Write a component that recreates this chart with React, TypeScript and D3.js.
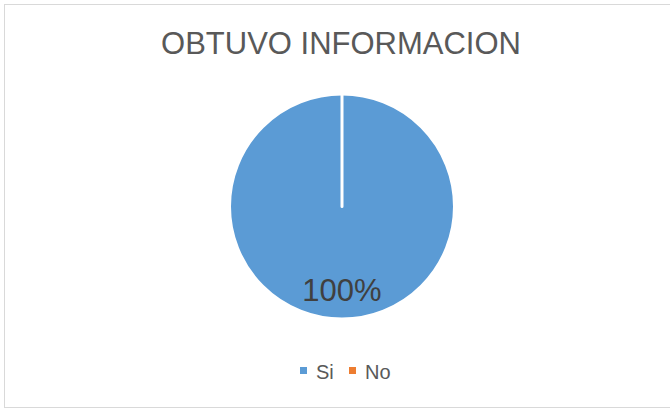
import { useEffect, useRef } from "react";
import * as d3 from "d3";

const categories = ["Si", "No"];
const values = [100, 0];
const colors = ["#5B9BD5", "#ED7D31"];
const title = "OBTUVO INFORMACION";

const W = 670;
const H = 409;

export default function App() {
  const ref = useRef<SVGSVGElement>(null);

  useEffect(() => {
    const svg = d3.select(ref.current);
    svg.selectAll("*").remove();

    // chart frame
    svg
      .append("rect")
      .attr("x", 4.5)
      .attr("y", 4.5)
      .attr("width", 670)
      .attr("height", 403)
      .attr("fill", "#fff")
      .attr("stroke", "#d9d9d9")
      .attr("stroke-width", 1);

    svg
      .append("text")
      .attr("x", 341)
      .attr("y", 54)
      .attr("text-anchor", "middle")
      .style("font-family", "'Liberation Sans', Arial, sans-serif")
      .style("font-size", "31px")
      .attr("fill", "#595959")
      .text(title);

    const data = categories.map((c, i) => ({ name: c, value: values[i] }));
    const pie = d3
      .pie<{ name: string; value: number }>()
      .value((d) => d.value)
      .sort(null);
    const arc = d3
      .arc<d3.PieArcDatum<{ name: string; value: number }>>()
      .innerRadius(0)
      .outerRadius(112.5);

    const g = svg.append("g").attr("transform", "translate(342,206.5)");
    const arcs = pie(data);

    g.selectAll("path")
      .data(arcs)
      .enter()
      .append("path")
      .attr("d", arc)
      .attr("fill", (_, i) => colors[i])
      .attr("stroke", "#fff")
      .attr("stroke-width", 3)
      .attr("stroke-linejoin", "round");

    const total = d3.sum(values);
    g.selectAll("text.lbl")
      .data(arcs.filter((a) => a.value > 0))
      .enter()
      .append("text")
      .attr("class", "lbl")
      .attr("x", 0)
      .attr("y", 94)
      .attr("text-anchor", "middle")
      .style("font-family", "'Liberation Sans', Arial, sans-serif")
      .style("font-size", "31px")
      .attr("fill", "#404040")
      .text((d) => `${Math.round((d.value / total) * 100)}%`);

    // legend
    const legendX = [300, 349];
    const leg = svg
      .append("g")
      .selectAll("g")
      .data(categories)
      .enter()
      .append("g")
      .attr("transform", (_, i) => `translate(${legendX[i]},0)`);

    leg
      .append("rect")
      .attr("x", 0)
      .attr("y", 367)
      .attr("width", 7)
      .attr("height", 7)
      .attr("fill", (_, i) => colors[i]);

    leg
      .append("text")
      .attr("x", 16)
      .attr("y", 378.5)
      .style("font-family", "'Liberation Sans', Arial, sans-serif")
      .style("font-size", "20px")
      .attr("fill", "#595959")
      .text((d) => d);
  }, []);

  return (
    <svg
      ref={ref}
      width={W}
      height={H}
      style={{ position: "absolute", left: 0, top: 0, display: "block" }}
    />
  );
}
